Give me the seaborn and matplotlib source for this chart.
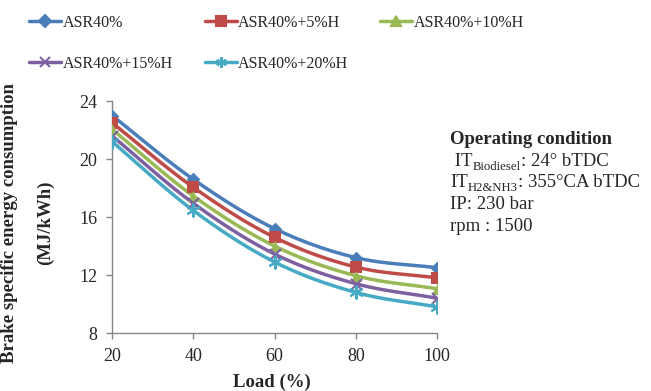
import numpy as np
import pandas as pd
import matplotlib
matplotlib.use("Agg")
import matplotlib.pyplot as plt
import seaborn as sns

# Load points and BSEC values
load = [20, 40, 60, 80, 100]
asr40 = [23.0, 18.6, 15.2, 13.2, 12.5]
asr40_5h = [22.5, 18.05, 14.6, 12.55, 11.8]
asr40_10h = [22.05, 17.45, 14.0, 11.95, 11.05]
asr40_15h = [21.6, 16.95, 13.45, 11.4, 10.4]
asr40_20h = [21.2, 16.45, 12.9, 10.8, 9.8]

series_names = ["ASR40%", "ASR40%+5%H", "ASR40%+10%H", "ASR40%+15%H", "ASR40%+20%H"]
series_values = [asr40, asr40_5h, asr40_10h, asr40_15h, asr40_20h]
colors = ["#4A7EBB", "#BE4B48", "#98B954", "#7D60A0", "#46AAC5"]
markers = ["D", "s", "^", "x", (6, 2, 0)]
marker_sizes = [7, 8, 8, 8, 9]

x_ticks = [20, 40, 60, 80, 100]
y_ticks = [8, 12, 16, 20, 24]

W, H = 651, 391


def smooth_curve(xs, ys, n=30):
    # Excel-style smoothed line (Catmull-Rom through the data points)
    xs = np.asarray(xs, float)
    ys = np.asarray(ys, float)
    px = np.concatenate([[2 * xs[0] - xs[1]], xs, [2 * xs[-1] - xs[-2]]])
    py = np.concatenate([[2 * ys[0] - ys[1]], ys, [2 * ys[-1] - ys[-2]]])
    out_x, out_y = [], []
    t = np.linspace(0, 1, n)
    for i in range(1, len(px) - 2):
        for arr, out in ((px, out_x), (py, out_y)):
            p0, p1, p2, p3 = arr[i - 1], arr[i], arr[i + 1], arr[i + 2]
            seg = 0.5 * ((2 * p1) + (-p0 + p2) * t
                         + (2 * p0 - 5 * p1 + 4 * p2 - p3) * t ** 2
                         + (-p0 + 3 * p1 - 3 * p2 + p3) * t ** 3)
            out.extend(seg)
    return np.array(out_x), np.array(out_y)


def sub_text(fig, x_px, y_px, parts, size=13.5):
    # parts: list of (text, is_subscript); laid out left to right in pixels
    renderer = fig.canvas.get_renderer()
    x = x_px
    for s, is_sub in parts:
        fs = size * 0.68 if is_sub else size
        dy = -4 if is_sub else 0
        t = fig.text(x / W, 1 - (y_px - dy) / H, s, fontsize=fs, va="baseline")
        x += t.get_window_extent(renderer).width


sns.set_theme(style="white")
plt.rcParams["font.family"] = ["Liberation Serif", "DejaVu Serif"]

fig = plt.figure(figsize=(W / 100, H / 100), dpi=100)
ax = fig.add_axes([112 / W, 1 - 333 / H, (437 - 112) / W, (333 - 101) / H])

handles = []
for name, vals, c, m, ms in zip(series_names, series_values, colors, markers, marker_sizes):
    sx, sy = smooth_curve(load, vals)
    ax.plot(sx, sy, color=c, lw=2.5, zorder=2)
    df = pd.DataFrame({"Load": load, "BSEC": vals})
    unfilled = m in ("x", (6, 2, 0))
    if unfilled:
        sns.scatterplot(data=df, x="Load", y="BSEC", ax=ax, color=c, marker=m,
                        s=ms ** 2, linewidth=1.5, zorder=3)
    else:
        sns.scatterplot(data=df, x="Load", y="BSEC", ax=ax, color=c, marker=m,
                        s=ms ** 2, linewidth=0, zorder=3)
    h, = ax.plot([], [], color=c, lw=2.5, marker=m, markersize=ms * 0.85,
                 markeredgecolor=c, markeredgewidth=1.5)
    handles.append(h)

ax.set_xlim(20, 100)
ax.set_ylim(8, 24)
ax.set_xticks(x_ticks)
ax.set_yticks(y_ticks)
ax.tick_params(axis="both", labelsize=13, length=4.5, width=1, color="#868686",
               direction="out", bottom=True, left=True, pad=6)
for side in ("top", "right"):
    ax.spines[side].set_visible(False)
for side in ("left", "bottom"):
    ax.spines[side].set_color("#868686")
    ax.spines[side].set_linewidth(1)
ax.set_xlabel("")
ax.set_ylabel("")
ax.margins(0)

fig.text(272 / W, 1 - 382 / H, "Load (%)", fontsize=13.5, fontweight="bold",
         ha="center", va="center")
fig.text(10 / W, 1 - 223 / H, "Brake specific energy consumption", fontsize=13.5,
         fontweight="bold", rotation=90, ha="center", va="center")
fig.text(45 / W, 1 - 223 / H, "(MJ/kWh)", fontsize=13.5, fontweight="bold",
         rotation=90, ha="center", va="center")

# legend filled row by row: 3 on top, 2 below
order = [0, 3, 1, 4, 2]
fig.legend([handles[i] for i in order], [series_names[i] for i in order],
           loc="upper left", bbox_to_anchor=(29 / W, 1 - 15 / H), borderpad=0,
           borderaxespad=0, ncol=3, frameon=False, fontsize=11.5, handlelength=2,
           handletextpad=0.1, columnspacing=2.0, labelspacing=1.55)

fig.text(450 / W, 1 - 144 / H, "Operating condition", fontsize=13.5,
         fontweight="bold", va="baseline")
sub_text(fig, 450, 166, [(" IT", False), ("Biodiesel", True), (": 24° bTDC", False)])
sub_text(fig, 450, 187, [("IT", False), ("H2&NH3", True), (": 355°CA bTDC", False)])
fig.text(450 / W, 1 - 209 / H, "IP: 230 bar", fontsize=13.5, va="baseline")
fig.text(450 / W, 1 - 231 / H, "rpm : 1500", fontsize=13.5, va="baseline")

fig.savefig("out.png", dpi=100)
